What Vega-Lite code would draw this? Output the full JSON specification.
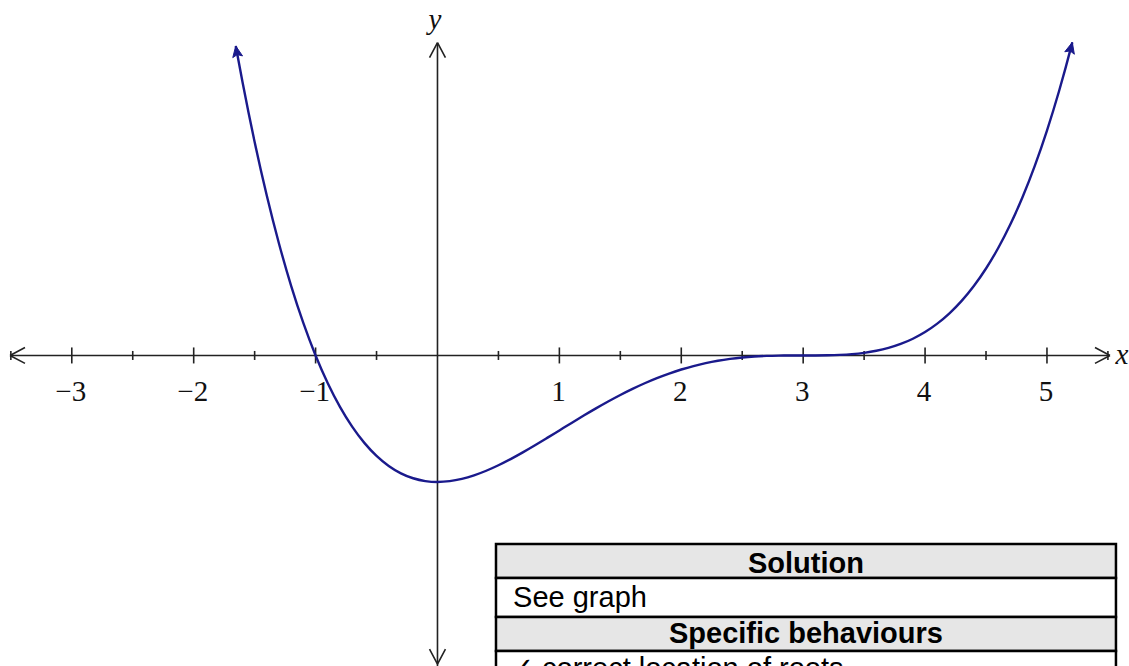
{
  "$schema": "https://vega.github.io/schema/vega-lite/v6.json",
  "width": 1129,
  "height": 666,
  "autosize": {"type": "none"},
  "padding": 0,
  "background": "white",
  "config": {"view": {"stroke": null}},
  "resolve": {"scale": {"shape": "independent"}},
  "datasets": {
    "curve": [
      {"x": -1.655, "y": 2.447}, {"x": -1.6, "y": 2.163}, {"x": -1.5, "y": 1.6875}, {"x": -1.4, "y": 1.262},
      {"x": -1.3, "y": 0.8834}, {"x": -1.2, "y": 0.5488}, {"x": -1.1, "y": 0.2553}, {"x": -1.0, "y": 0},
      {"x": -0.9, "y": -0.2197}, {"x": -0.8, "y": -0.4065}, {"x": -0.7, "y": -0.5628}, {"x": -0.6, "y": -0.6912},
      {"x": -0.5, "y": -0.794}, {"x": -0.4, "y": -0.8734}, {"x": -0.3, "y": -0.9317}, {"x": -0.2, "y": -0.9709},
      {"x": -0.1, "y": -0.993}, {"x": 0.0, "y": -1.0}, {"x": 0.1, "y": -0.9936}, {"x": 0.2, "y": -0.9756},
      {"x": 0.3, "y": -0.9477}, {"x": 0.4, "y": -0.9114}, {"x": 0.5, "y": -0.8681}, {"x": 0.6, "y": -0.8192},
      {"x": 0.7, "y": -0.7661}, {"x": 0.8, "y": -0.7099}, {"x": 0.9, "y": -0.6517}, {"x": 1.0, "y": -0.5926},
      {"x": 1.1, "y": -0.5335}, {"x": 1.2, "y": -0.4752}, {"x": 1.3, "y": -0.4185}, {"x": 1.4, "y": -0.3641},
      {"x": 1.5, "y": -0.3125}, {"x": 1.6, "y": -0.2642}, {"x": 1.7, "y": -0.2197}, {"x": 1.8, "y": -0.1792},
      {"x": 1.9, "y": -0.143}, {"x": 2.0, "y": -0.1111}, {"x": 2.1, "y": -0.0837}, {"x": 2.2, "y": -0.0607},
      {"x": 2.3, "y": -0.0419}, {"x": 2.4, "y": -0.0272}, {"x": 2.5, "y": -0.0162}, {"x": 2.6, "y": -0.0085},
      {"x": 2.7, "y": -0.0037}, {"x": 2.8, "y": -0.0011}, {"x": 2.9, "y": -0.0001}, {"x": 3.0, "y": 0},
      {"x": 3.1, "y": 0.0002}, {"x": 3.2, "y": 0.0012}, {"x": 3.3, "y": 0.0043}, {"x": 3.4, "y": 0.0104},
      {"x": 3.5, "y": 0.0208}, {"x": 3.6, "y": 0.0368}, {"x": 3.7, "y": 0.0597}, {"x": 3.8, "y": 0.091},
      {"x": 3.9, "y": 0.1323}, {"x": 4.0, "y": 0.1852}, {"x": 4.1, "y": 0.2514}, {"x": 4.2, "y": 0.3328},
      {"x": 4.3, "y": 0.4313}, {"x": 4.4, "y": 0.5488}, {"x": 4.5, "y": 0.6875}, {"x": 4.6, "y": 0.8495},
      {"x": 4.7, "y": 1.0372}, {"x": 4.8, "y": 1.2528}, {"x": 4.9, "y": 1.4988}, {"x": 5.0, "y": 1.7778},
      {"x": 5.1, "y": 2.0923}, {"x": 5.2, "y": 2.4451}, {"x": 5.208, "y": 2.4751}
    ],
    "curveEnds": [
      {"x": -1.655, "y": 2.447, "end": "curveLeft"},
      {"x": 5.208, "y": 2.4751, "end": "curveRight"}
    ],
    "axisLines": [
      {"x": -3.507, "x2": 5.517, "y": 0, "y2": 0},
      {"x": 0, "x2": 0, "y": -2.6, "y2": 2.473}
    ],
    "arrows": [
      {"x": -3.507, "y": 0, "dir": "left"},
      {"x": 5.517, "y": 0, "dir": "right"},
      {"x": 0, "y": 2.473, "dir": "up"},
      {"x": 0, "y": -2.44, "dir": "down"}
    ],
    "majorTicks": [
      {"x": -3, "label": "−3"}, {"x": -2, "label": "−2"}, {"x": -1, "label": "−1"},
      {"x": 1, "label": "1"}, {"x": 2, "label": "2"}, {"x": 3, "label": "3"},
      {"x": 4, "label": "4"}, {"x": 5, "label": "5"}
    ],
    "minorTicks": [
      {"x": -3.5}, {"x": -2.5}, {"x": -1.5}, {"x": -0.5}, {"x": 0.5},
      {"x": 1.5}, {"x": 2.5}, {"x": 3.5}, {"x": 4.5}, {"x": 5.5}
    ],
    "axisNames": [
      {"x": 5.615, "y": -0.067, "label": "x"},
      {"x": -0.02, "y": 2.581, "label": "y"}
    ],
    "tableCells": [
      {"x": 0.48, "x2": 5.566, "y": -1.49, "y2": -1.759, "kind": "header"},
      {"x": 0.48, "x2": 5.566, "y": -1.759, "y2": -2.067, "kind": "body"},
      {"x": 0.48, "x2": 5.566, "y": -2.067, "y2": -2.336, "kind": "header"},
      {"x": 0.48, "x2": 5.566, "y": -2.336, "y2": -2.7, "kind": "body"}
    ],
    "tableHeaders": [
      {"x": 3.023, "y": -1.723, "label": "Solution"},
      {"x": 3.023, "y": -2.273, "label": "Specific behaviours"}
    ],
    "tableBody": [
      {"x": 0.62, "y": -1.988, "label": "See graph"},
      {"x": 0.595, "y": -2.549, "label": "✓ correct location of roots"}
    ]
  },
  "layer": [
    {
      "data": {"name": "tableCells"},
      "mark": {"type": "rect", "stroke": "#000000", "strokeWidth": 2.5},
      "encoding": {
        "x": {"field": "x", "type": "quantitative", "scale": {"domain": [-3.589, 5.673], "nice": false, "zero": false}, "axis": null},
        "x2": {"field": "x2"},
        "y": {"field": "y", "type": "quantitative", "scale": {"domain": [-2.455, 2.81], "nice": false, "zero": false}, "axis": null},
        "y2": {"field": "y2"},
        "fill": {"field": "kind", "type": "nominal", "scale": {"domain": ["header", "body"], "range": ["#e6e6e6", "#ffffff"]}, "legend": null}
      }
    },
    {
      "data": {"name": "tableHeaders"},
      "mark": {"type": "text", "font": "Liberation Sans", "fontWeight": "bold", "fontSize": 29, "align": "center", "baseline": "alphabetic", "color": "#000000"},
      "encoding": {
        "x": {"field": "x", "type": "quantitative"},
        "y": {"field": "y", "type": "quantitative"},
        "text": {"field": "label"}
      }
    },
    {
      "data": {"name": "tableBody"},
      "mark": {"type": "text", "font": "Liberation Sans", "fontSize": 29, "align": "left", "baseline": "alphabetic", "color": "#000000"},
      "encoding": {
        "x": {"field": "x", "type": "quantitative"},
        "y": {"field": "y", "type": "quantitative"},
        "text": {"field": "label"}
      }
    },
    {
      "data": {"name": "axisLines"},
      "mark": {"type": "rule", "color": "#222222", "strokeWidth": 1.6},
      "encoding": {
        "x": {"field": "x", "type": "quantitative"},
        "x2": {"field": "x2"},
        "y": {"field": "y", "type": "quantitative"},
        "y2": {"field": "y2"}
      }
    },
    {
      "data": {"name": "arrows"},
      "mark": {"type": "point", "filled": false, "stroke": "#222222", "strokeWidth": 1.6, "size": 900, "opacity": 1},
      "encoding": {
        "x": {"field": "x", "type": "quantitative"},
        "y": {"field": "y", "type": "quantitative"},
        "shape": {
          "field": "dir", "type": "nominal", "legend": null,
          "scale": {
            "domain": ["right", "left", "up", "down"],
            "range": ["M0,0L-1,-0.53M0,0L-1,0.53", "M0,0L1,-0.53M0,0L1,0.53", "M0,0L-0.53,1M0,0L0.53,1", "M0,0L-0.53,-1M0,0L0.53,-1"]
          }
        }
      }
    },
    {
      "data": {"name": "majorTicks"},
      "mark": {"type": "tick", "orient": "vertical", "size": 16, "thickness": 1.6, "color": "#222222", "opacity": 1},
      "encoding": {
        "x": {"field": "x", "type": "quantitative"},
        "y": {"datum": 0, "type": "quantitative"}
      }
    },
    {
      "data": {"name": "minorTicks"},
      "mark": {"type": "tick", "orient": "vertical", "size": 9, "thickness": 1.6, "color": "#222222", "opacity": 1},
      "encoding": {
        "x": {"field": "x", "type": "quantitative"},
        "y": {"datum": 0, "type": "quantitative"}
      }
    },
    {
      "data": {"name": "majorTicks"},
      "mark": {"type": "text", "font": "Liberation Serif", "fontSize": 29, "align": "center", "baseline": "alphabetic", "dy": 45.5, "dx": -1, "color": "#111111"},
      "encoding": {
        "x": {"field": "x", "type": "quantitative"},
        "y": {"datum": 0, "type": "quantitative"},
        "text": {"field": "label"}
      }
    },
    {
      "data": {"name": "axisNames"},
      "mark": {"type": "text", "font": "Liberation Serif", "fontStyle": "italic", "fontSize": 29, "align": "center", "baseline": "alphabetic", "color": "#111111"},
      "encoding": {
        "x": {"field": "x", "type": "quantitative"},
        "y": {"field": "y", "type": "quantitative"},
        "text": {"field": "label"}
      }
    },
    {
      "data": {"name": "curve"},
      "mark": {"type": "line", "color": "#1a1a8c", "strokeWidth": 2.4, "interpolate": "monotone"},
      "encoding": {
        "x": {"field": "x", "type": "quantitative"},
        "y": {"field": "y", "type": "quantitative"}
      }
    },
    {
      "data": {"name": "curveEnds"},
      "mark": {"type": "point", "filled": true, "fill": "#1a1a8c", "stroke": "#1a1a8c", "strokeWidth": 1, "size": 484, "opacity": 1},
      "encoding": {
        "x": {"field": "x", "type": "quantitative"},
        "y": {"field": "y", "type": "quantitative"},
        "shape": {
          "field": "end", "type": "nominal", "legend": null,
          "scale": {
            "domain": ["curveLeft", "curveRight"],
            "range": ["M0,0L0.6168,0.9067L0.1389,0.7878L-0.2696,1.0629Z", "M0,0L0.1852,1.0808L-0.2003,0.7745L-0.686,0.8554Z"]
          }
        }
      }
    }
  ]
}
